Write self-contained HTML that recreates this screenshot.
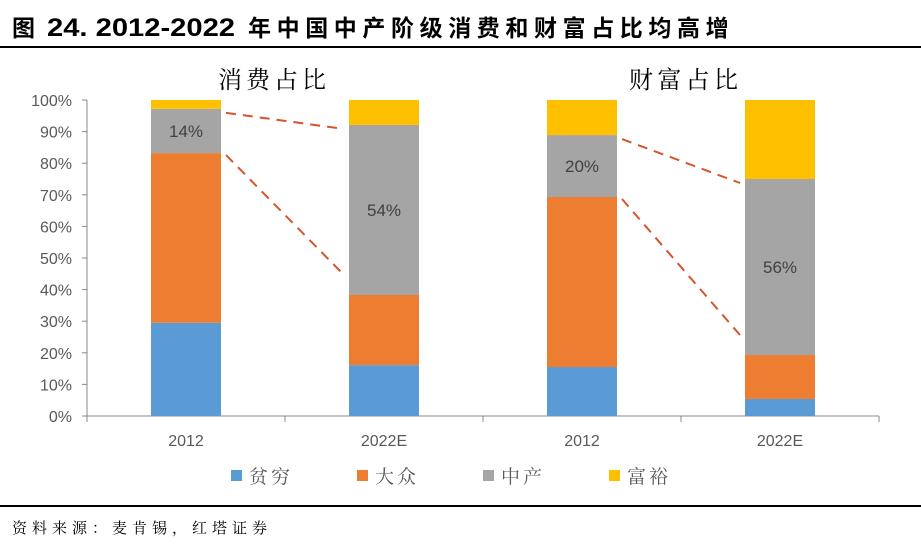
<!DOCTYPE html>
<html><head><meta charset="utf-8"><style>
body{margin:0;background:#fff;width:921px;height:555px;overflow:hidden;font-family:"Liberation Sans","Noto Sans CJK SC",sans-serif}
</style></head><body>
<svg width="921" height="555" xmlns="http://www.w3.org/2000/svg" id="chart">
<text y="36" font-size="23" font-weight="bold" fill="#000" font-family="Liberation Sans, Noto Sans CJK SC, sans-serif"><tspan x="12">图</tspan><tspan x="47" font-size="25" textLength="188" lengthAdjust="spacingAndGlyphs">24. 2012-2022</tspan><tspan x="248" letter-spacing="5.6">年中国中产阶级消费和财富占比均高增</tspan></text>
<rect x="0" y="46" width="921" height="2" fill="#000"/>
<rect x="0" y="505" width="921" height="2" fill="#000"/>
<text x="12" y="533" font-size="15" fill="#000" textLength="255" lengthAdjust="spacing" font-family="Noto Serif CJK SC, serif">资料来源：麦肯锡，红塔证券</text>
<text x="218" y="88" font-size="24" fill="#000" textLength="108" lengthAdjust="spacing" font-family="Noto Serif CJK SC, serif">消费占比</text>
<text x="629" y="88" font-size="24" fill="#000" textLength="109" lengthAdjust="spacing" font-family="Noto Serif CJK SC, serif">财富占比</text>
<g id="axes"></g><g id="bars"></g><g id="legend"></g>
</svg>
<script>
const categories=["2012","2022E","2012","2022E"];
const poor=[29.5,16.1,15.5,5.4];
const mass=[53.7,22.2,53.8,13.9];
const middle=[14,53.8,19.6,55.7];
const affluent=[2.8,7.9,11.1,25];
const middleLabels=["14%","54%","20%","56%"];
const yTicks=[0,10,20,30,40,50,60,70,80,90,100];
const NS="http://www.w3.org/2000/svg";
const X0=87,X1=879,Y0=416,Y1=100;
const bw=(X1-X0)/categories.length;
const y=v=>Y0-(v/100)*(Y0-Y1);
const xc=i=>X0+bw*(i+0.5);
function mk(t,a,p){const e=document.createElementNS(NS,t);for(const k in a)e.setAttribute(k,a[k]);p.appendChild(e);return e;}
const axes=document.getElementById('axes');
let ax=mk('line',{x1:X0,y1:Y0,x2:X0,y2:Y1,stroke:'#888','stroke-width':1},axes);


let bx=mk('line',{x1:X0,y1:Y0,x2:X1,y2:Y0,stroke:'#888','stroke-width':1},axes);


yTicks.forEach(t=>{
 const tk=mk('line',{x1:X0-5,x2:X0,y1:y(t),y2:y(t),stroke:'#888'},axes);
 
 
 const tx=mk('text',{x:X0-15,y:y(t)+6,'text-anchor':'end','font-size':16,fill:'#595959'},axes);
 tx.textContent=t+'%';
 
 
});
for(let i=0;i<=categories.length;i++){
 const tk=mk('line',{x1:X0+bw*i,x2:X0+bw*i,y1:Y0,y2:Y0+6,stroke:'#888'},axes);
 
 
}
const bars=document.getElementById('bars');
const series=[[poor,'#5b9bd5','poor'],[mass,'#ed7d31','mass'],[middle,'#a5a5a5','middle'],[affluent,'#ffc000','affluent']];
const W=70;
categories.forEach((c,i)=>{
 let acc=0;
 series.forEach(([arr,col,nm])=>{
  const r=mk('rect',{x:xc(i)-W/2,y:y(acc+arr[i]),width:W,height:y(acc)-y(acc+arr[i]),fill:col},bars);
  
  
  acc+=arr[i];
 });
 const base=poor[i]+mass[i];
 const lt=mk('text',{x:xc(i),y:y(base+middle[i]/2)+6,'text-anchor':'middle','font-size':17,fill:'#404040'},bars);
 lt.textContent=middleLabels[i];
 
 
 const cl=mk('text',{x:xc(i),y:Y0+30,'text-anchor':'middle','font-size':16,fill:'#595959'},bars);
 cl.textContent=c;
 
 
});
[[0,1],[2,3]].forEach(([a,b])=>{
 const x1=xc(a)+W/2+5,x2=xc(b)-W/2-5;
 const topA=y(poor[a]+mass[a]+middle[a])+4,topB=y(poor[b]+mass[b]+middle[b])+4;
 const botA=y(poor[a]+mass[a])+2,botB=y(poor[b]+mass[b])-20;
 [[topA,topB],[botA,botB]].forEach(([p,q])=>{
  const l=mk('line',{x1:x1,y1:p,x2:x2,y2:q,stroke:'#d9532c','stroke-width':2,'stroke-dasharray':'10,7'},bars);
  
  
 });
});
const lg=document.getElementById('legend');
const names=['贫穷','大众','中产','富裕'];
series.forEach(([a,col],k)=>{
 const lx=231+k*126;
 const r=mk('rect',{x:lx,y:470,width:11,height:11,fill:col},lg);
 
 
 const t=mk('text',{x:lx+18,y:483,'font-size':19,fill:'#595959','font-family':'Noto Serif CJK SC, serif','letter-spacing':'3'},lg);
 t.textContent=names[k];
 
 
});
</script>
</body></html>
